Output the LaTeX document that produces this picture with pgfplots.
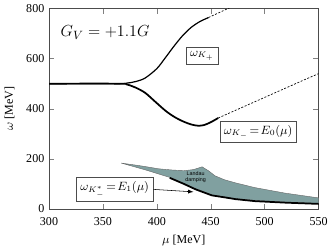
\documentclass[border=0pt]{standalone}
\usepackage{fontspec}
\setmainfont{Liberation Serif}
\setsansfont{Liberation Sans}
\usepackage{pgfplots}
\pgfplotsset{compat=1.18}
\definecolor{damp}{RGB}{128,160,160}
\begin{document}
\begin{tikzpicture}[font=\fontsize{9}{10}\selectfont]
\begin{axis}[
  scale only axis,
  width=201.75pt, height=150pt,
  xmin=300, xmax=550, ymin=0, ymax=800,
  xtick={300,350,...,550}, ytick={0,200,...,800},
  tick align=inside, tick pos=both,
  major tick length=4pt,
  /pgf/number format/assume math mode=true,
  tick label style={font=\fontsize{9}{10}\selectfont},
  xticklabel style={yshift=-3pt},
  xlabel={$\mu$ [MeV]}, ylabel={$\omega$ [MeV]},
  xlabel style={yshift=0pt},
  ylabel style={yshift=2pt},
  axis line style={black!70, line width=0.5pt},
  clip=true,
]
% Landau damping region
\addplot[fill=damp, draw=black!60, line width=0.3pt] coordinates {
 (367,183) (385,172) (402,160) (415,155) (426,153) (434,157) (442,168) (448,152)
 (454,132) (463,116) (473,104) (491,85) (519,63) (550,44)
 (550,22) (519,27) (491,34) (473,41) (463,48) (451,56) (436,81) (425,102)
 (414,123) (405,135) (390,155) (367,183)} -- cycle;
% E1 line
\addplot[black, line width=1.3pt] coordinates {
 (412,124) (425,100) (436,78) (451,54) (463,46) (473,39) (491,31) (519,25) (550,20)};
% omega_K+ solid
\addplot[black, line width=0.9pt, smooth] coordinates {
 (300,500) (365,500) (372,502) (380,508) (389,522) (400,560) (408,604) (416,650)
 (424,692) (432,725) (440,748) (448,764)};
\addplot[black, line width=0.5pt, dash pattern=on 1.5pt off 1.2pt] coordinates {
 (448,764) (466,800) (470,808)};
% omega_K- solid
\addplot[black, line width=1.3pt, smooth] coordinates {
 (300,500) (365,500) (372,497) (380,485) (389,464) (398,430) (408,392) (416,368)
 (424,350) (432,337) (438.5,332) (444,335) (450,346) (457,363)};
\addplot[black, line width=0.5pt, dash pattern=on 1.5pt off 1.2pt] coordinates {
 (457,363) (535,512) (550,540)};
% labels
\node at (axis cs:352,704) {\fontsize{12.5}{13}\selectfont $G_V=+1.1G$};
\node[draw=black!70, line width=0.4pt, inner sep=3pt] at (axis cs:442,612) {$\omega_{K_+}$};
\node[draw=black!70, line width=0.4pt, inner sep=3pt] at (axis cs:494,308) {$\omega_{K_-}\!=\!E_0(\mu)$};
\node[draw=black!70, line width=0.4pt, inner sep=3pt] (e1) at (axis cs:361,78) {$\omega_{K^{*}_{-}}\!=\!E_1(\mu)$};
\draw[-latex, line width=0.4pt] (e1.east) -- (axis cs:434,68);
\node[align=center, font=\sffamily\fontsize{4}{4.5}\selectfont] at (axis cs:436,128) {Landau\\damping};
\end{axis}
\end{tikzpicture}
\end{document}
